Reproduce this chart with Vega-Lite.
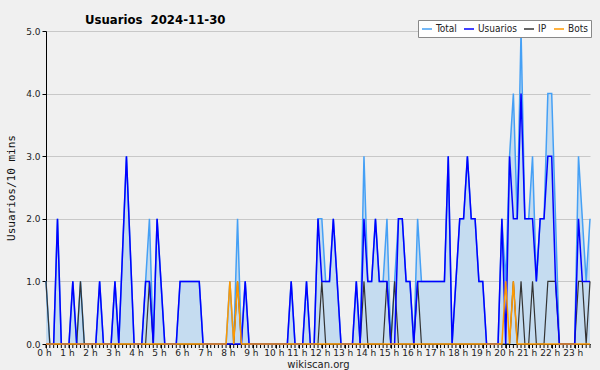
{
  "$schema": "https://vega.github.io/schema/vega-lite/v6.json",
  "width": 544,
  "height": 313,
  "autosize": {"type": "none"},
  "padding": {"left": 46, "top": 31, "right": 10, "bottom": 26},
  "background": "#f0f0f0",
  "config": {"font": "DejaVu Sans", "view": {"stroke": null}},
  "title": {"text": "Usuarios\u00a0\u00a02024-11-30", "anchor": "start", "frame": "group", "dx": 39, "dy": 23, "offset": 6, "baseline": "alphabetic", "fontSize": 13, "font": "DejaVu Sans Condensed", "fontWeight": "bold", "color": "#000000"},
  "data": {
    "format": {"parse": {"t": "date:'%H:%M'"}},
    "values": [
      {"t":"00:00","T":1,"U":0,"I":1,"B":0},{"t":"00:10","T":0,"U":0,"I":0,"B":0},{"t":"00:20","T":0,"U":0,"I":0,"B":0},{"t":"00:30","T":2,"U":2,"I":0,"B":0},{"t":"00:40","T":0,"U":0,"I":0,"B":0},{"t":"00:50","T":0,"U":0,"I":0,"B":0},
      {"t":"01:00","T":0,"U":0,"I":0,"B":0},{"t":"01:10","T":1,"U":1,"I":0,"B":0},{"t":"01:20","T":0,"U":0,"I":0,"B":0},{"t":"01:30","T":1,"U":0,"I":1,"B":0},{"t":"01:40","T":0,"U":0,"I":0,"B":0},{"t":"01:50","T":0,"U":0,"I":0,"B":0},
      {"t":"02:00","T":0,"U":0,"I":0,"B":0},{"t":"02:10","T":0,"U":0,"I":0,"B":0},{"t":"02:20","T":1,"U":1,"I":0,"B":0},{"t":"02:30","T":0,"U":0,"I":0,"B":0},{"t":"02:40","T":0,"U":0,"I":0,"B":0},{"t":"02:50","T":0,"U":0,"I":0,"B":0},
      {"t":"03:00","T":1,"U":1,"I":0,"B":0},{"t":"03:10","T":0,"U":0,"I":0,"B":0},{"t":"03:20","T":1.5,"U":1.5,"I":0,"B":0},{"t":"03:30","T":3,"U":3,"I":0,"B":0},{"t":"03:40","T":1.5,"U":1.5,"I":0,"B":0},{"t":"03:50","T":0,"U":0,"I":0,"B":0},
      {"t":"04:00","T":0,"U":0,"I":0,"B":0},{"t":"04:10","T":0,"U":0,"I":0,"B":0},{"t":"04:20","T":1,"U":1,"I":0,"B":0},{"t":"04:30","T":2,"U":1,"I":1,"B":0},{"t":"04:40","T":0,"U":0,"I":0,"B":0},{"t":"04:50","T":2,"U":2,"I":0,"B":0},
      {"t":"05:00","T":1,"U":1,"I":0,"B":0},{"t":"05:10","T":0,"U":0,"I":0,"B":0},{"t":"05:20","T":0,"U":0,"I":0,"B":0},{"t":"05:30","T":0,"U":0,"I":0,"B":0},{"t":"05:40","T":0,"U":0,"I":0,"B":0},{"t":"05:50","T":1,"U":1,"I":0,"B":0},
      {"t":"06:00","T":1,"U":1,"I":0,"B":0},{"t":"06:10","T":1,"U":1,"I":0,"B":0},{"t":"06:20","T":1,"U":1,"I":0,"B":0},{"t":"06:30","T":1,"U":1,"I":0,"B":0},{"t":"06:40","T":1,"U":1,"I":0,"B":0},{"t":"06:50","T":0,"U":0,"I":0,"B":0},
      {"t":"07:00","T":0,"U":0,"I":0,"B":0},{"t":"07:10","T":0,"U":0,"I":0,"B":0},{"t":"07:20","T":0,"U":0,"I":0,"B":0},{"t":"07:30","T":0,"U":0,"I":0,"B":0},{"t":"07:40","T":0,"U":0,"I":0,"B":0},{"t":"07:50","T":0,"U":0,"I":0,"B":0},
      {"t":"08:00","T":1,"U":0,"I":0,"B":1},{"t":"08:10","T":0,"U":0,"I":0,"B":0},{"t":"08:20","T":2,"U":0,"I":1,"B":1},{"t":"08:30","T":0,"U":0,"I":0,"B":0},{"t":"08:40","T":1,"U":1,"I":0,"B":0},{"t":"08:50","T":0,"U":0,"I":0,"B":0},
      {"t":"09:00","T":0,"U":0,"I":0,"B":0},{"t":"09:10","T":0,"U":0,"I":0,"B":0},{"t":"09:20","T":0,"U":0,"I":0,"B":0},{"t":"09:30","T":0,"U":0,"I":0,"B":0},{"t":"09:40","T":0,"U":0,"I":0,"B":0},{"t":"09:50","T":0,"U":0,"I":0,"B":0},
      {"t":"10:00","T":0,"U":0,"I":0,"B":0},{"t":"10:10","T":0,"U":0,"I":0,"B":0},{"t":"10:20","T":0,"U":0,"I":0,"B":0},{"t":"10:30","T":0,"U":0,"I":0,"B":0},{"t":"10:40","T":1,"U":1,"I":0,"B":0},{"t":"10:50","T":0,"U":0,"I":0,"B":0},
      {"t":"11:00","T":0,"U":0,"I":0,"B":0},{"t":"11:10","T":0,"U":0,"I":0,"B":0},{"t":"11:20","T":1,"U":1,"I":0,"B":0},{"t":"11:30","T":0,"U":0,"I":0,"B":0},{"t":"11:40","T":0,"U":0,"I":0,"B":0},{"t":"11:50","T":2,"U":2,"I":0,"B":0},
      {"t":"12:00","T":2,"U":1,"I":1,"B":0},{"t":"12:10","T":1,"U":1,"I":0,"B":0},{"t":"12:20","T":1,"U":1,"I":0,"B":0},{"t":"12:30","T":2,"U":2,"I":0,"B":0},{"t":"12:40","T":1,"U":1,"I":0,"B":0},{"t":"12:50","T":0,"U":0,"I":0,"B":0},
      {"t":"13:00","T":0,"U":0,"I":0,"B":0},{"t":"13:10","T":0,"U":0,"I":0,"B":0},{"t":"13:20","T":0,"U":0,"I":0,"B":0},{"t":"13:30","T":1,"U":1,"I":0,"B":0},{"t":"13:40","T":0,"U":0,"I":0,"B":0},{"t":"13:50","T":3,"U":2,"I":1,"B":0},
      {"t":"14:00","T":1,"U":1,"I":0,"B":0},{"t":"14:10","T":1,"U":1,"I":0,"B":0},{"t":"14:20","T":2,"U":2,"I":0,"B":0},{"t":"14:30","T":1,"U":1,"I":0,"B":0},{"t":"14:40","T":1,"U":1,"I":0,"B":0},{"t":"14:50","T":2,"U":1,"I":1,"B":0},
      {"t":"15:00","T":0,"U":0,"I":0,"B":0},{"t":"15:10","T":1,"U":0,"I":1,"B":0},{"t":"15:20","T":2,"U":2,"I":0,"B":0},{"t":"15:30","T":2,"U":2,"I":0,"B":0},{"t":"15:40","T":1,"U":1,"I":0,"B":0},{"t":"15:50","T":1,"U":1,"I":0,"B":0},
      {"t":"16:00","T":0,"U":0,"I":0,"B":0},{"t":"16:10","T":2,"U":1,"I":1,"B":0},{"t":"16:20","T":1,"U":1,"I":0,"B":0},{"t":"16:30","T":1,"U":1,"I":0,"B":0},{"t":"16:40","T":1,"U":1,"I":0,"B":0},{"t":"16:50","T":1,"U":1,"I":0,"B":0},
      {"t":"17:00","T":1,"U":1,"I":0,"B":0},{"t":"17:10","T":1,"U":1,"I":0,"B":0},{"t":"17:20","T":1,"U":1,"I":0,"B":0},{"t":"17:30","T":3,"U":3,"I":0,"B":0},{"t":"17:40","T":0,"U":0,"I":0,"B":0},{"t":"17:50","T":1,"U":1,"I":0,"B":0},
      {"t":"18:00","T":2,"U":2,"I":0,"B":0},{"t":"18:10","T":2,"U":2,"I":0,"B":0},{"t":"18:20","T":3,"U":3,"I":0,"B":0},{"t":"18:30","T":2,"U":2,"I":0,"B":0},{"t":"18:40","T":2,"U":2,"I":0,"B":0},{"t":"18:50","T":1,"U":1,"I":0,"B":0},
      {"t":"19:00","T":1,"U":1,"I":0,"B":0},{"t":"19:10","T":0,"U":0,"I":0,"B":0},{"t":"19:20","T":0,"U":0,"I":0,"B":0},{"t":"19:30","T":0,"U":0,"I":0,"B":0},{"t":"19:40","T":0,"U":0,"I":0,"B":0},{"t":"19:50","T":2,"U":2,"I":0,"B":0},
      {"t":"20:00","T":1,"U":0,"I":0,"B":1},{"t":"20:10","T":3,"U":3,"I":0,"B":0},{"t":"20:20","T":4,"U":2,"I":1,"B":1},{"t":"20:30","T":2,"U":2,"I":0,"B":0},{"t":"20:40","T":5,"U":4,"I":1,"B":0},{"t":"20:50","T":2,"U":2,"I":0,"B":0},
      {"t":"21:00","T":2,"U":2,"I":0,"B":0},{"t":"21:10","T":3,"U":2,"I":1,"B":0},{"t":"21:20","T":1,"U":1,"I":0,"B":0},{"t":"21:30","T":2,"U":2,"I":0,"B":0},{"t":"21:40","T":2,"U":2,"I":0,"B":0},{"t":"21:50","T":4,"U":3,"I":1,"B":0},
      {"t":"22:00","T":4,"U":3,"I":1,"B":0},{"t":"22:10","T":2,"U":1,"I":1,"B":0},{"t":"22:20","T":0,"U":0,"I":0,"B":0},{"t":"22:30","T":0,"U":0,"I":0,"B":0},{"t":"22:40","T":0,"U":0,"I":0,"B":0},{"t":"22:50","T":0,"U":0,"I":0,"B":0},
      {"t":"23:00","T":0,"U":0,"I":0,"B":0},{"t":"23:10","T":3,"U":2,"I":1,"B":0},{"t":"23:20","T":2,"U":1,"I":1,"B":0},{"t":"23:30","T":1,"U":1,"I":0,"B":0},{"t":"23:40","T":2,"U":1,"I":1,"B":0}
    ]
  },
  "encoding": {
    "x": {"field": "t", "type": "temporal",
      "scale": {"domain": [{"year": 1900, "month": 1, "date": 1, "hours": 0, "minutes": 0}, {"year": 1900, "month": 1, "date": 1, "hours": 23, "minutes": 40}], "nice": false},
      "axis": {"title": "wikiscan.org", "format": "%-H h", "tickCount": 24, "labelFlush": false, "labelOverlap": false, "tickSize": 4, "tickColor": "#000000", "domainColor": "#000000", "labelFontSize": 9, "labelPadding": 0, "labelOffset": -2, "labelColor": "#222222", "grid": false, "titleFontSize": 10, "titleFontWeight": "normal", "titleColor": "#222222", "titlePadding": 2}}
  },
  "layer": [
    {
      "mark": {"type": "area", "color": "#c5dcf0", "line": false},
      "encoding": {
        "y": {"field": "T", "type": "quantitative", "title": "Usuarios/10 mins",
          "scale": {"domain": [0, 5], "nice": false},
          "axis": {"values": [0,0.25,0.5,0.75,1,1.25,1.5,1.75,2,2.25,2.5,2.75,3,3.25,3.5,3.75,4,4.25,4.5,4.75,5],
            "labelExpr": "datum.value % 1 === 0 ? format(datum.value, '.1f') : ''", "labelOverlap": false,
            "grid": true, "gridColor": {"condition": {"test": "datum.value % 1 !== 0", "value": "rgba(0,0,0,0)"}, "value": "#c8c8c8"},
            "tickSize": 4, "tickColor": "#000000", "domainColor": "#000000", "labelFontSize": 9, "labelPadding": 2, "labelColor": "#222222",
            "titleFont": "DejaVu Sans Mono", "titleFontSize": 11, "titleFontWeight": "normal", "titleColor": "#111111", "titlePadding": 9}}
      }
    },
    {
      "mark": {"type": "rule", "color": "#000000", "strokeWidth": 1},
      "encoding": {
        "y": {"datum": 0, "type": "quantitative"},
        "y2": {"datum": -0.064}
      }
    },
    {
      "mark": {"type": "line", "strokeWidth": 1.5},
      "encoding": {
        "y": {"field": "T", "type": "quantitative", "title": "Usuarios/10 mins"},
        "color": {"datum": "Total", "type": "nominal",
          "scale": {"domain": ["Total", "Usuarios", "IP", "Bots"], "range": ["#45a0f5", "#0000ff", "#333333", "#ff9900"]},
          "legend": {"orient": "none", "legendX": 372, "legendY": -11, "direction": "horizontal", "title": null,
            "symbolType": "stroke", "symbolSize": 100, "symbolStrokeWidth": 1.5, "labelFontSize": 10, "labelFont": "DejaVu Sans Condensed", "labelColor": "#222222",
            "fillColor": "#ffffff", "strokeColor": "#888888", "padding": 3, "columnPadding": 4, "labelOffset": 3}}
      }
    },
    {
      "mark": {"type": "line", "strokeWidth": 1.2},
      "encoding": {
        "y": {"field": "I", "type": "quantitative", "title": "Usuarios/10 mins"},
        "color": {"datum": "IP", "type": "nominal"}
      }
    },
    {
      "mark": {"type": "line", "strokeWidth": 1.5},
      "encoding": {
        "y": {"field": "U", "type": "quantitative", "title": "Usuarios/10 mins"},
        "color": {"datum": "Usuarios", "type": "nominal"}
      }
    },
    {
      "mark": {"type": "line", "strokeWidth": 1.5},
      "encoding": {
        "y": {"field": "B", "type": "quantitative", "title": "Usuarios/10 mins"},
        "color": {"datum": "Bots", "type": "nominal"}
      }
    },
    {
      "data": {"values": [{"label": "CC BY-SA 3.0"}]},
      "mark": {"type": "text", "align": "right", "baseline": "alphabetic", "fontSize": 7, "color": "#333333"},
      "encoding": {
        "x": {"datum": {"year": 1900, "month": 1, "date": 1, "hours": 23, "minutes": 40}, "type": "temporal"},
        "y": {"datum": -0.39, "type": "quantitative"},
        "text": {"field": "label", "type": "nominal"}
      }
    }
  ]
}
